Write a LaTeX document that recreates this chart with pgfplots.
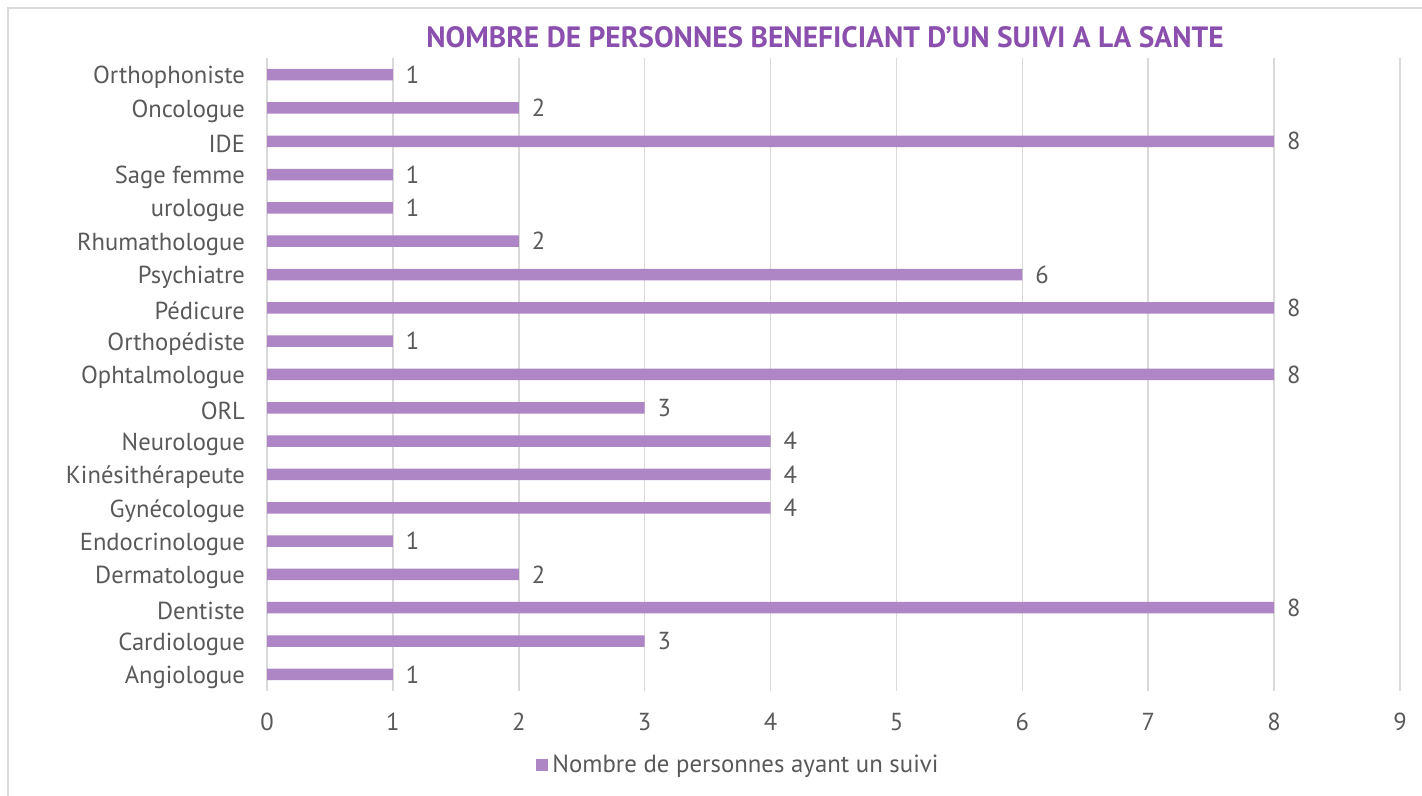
\documentclass[border=0pt]{standalone}
\usepackage{fontspec}
\setmainfont{PT Sans}
\usepackage{pgfplots}
\pgfplotsset{compat=1.18}
\definecolor{barc}{HTML}{AE85C5}
\definecolor{txt}{HTML}{595959}
\definecolor{ttl}{HTML}{8B4FAE}
\definecolor{grd}{HTML}{D9D9D9}
\begin{document}
\begin{tikzpicture}
\path[use as bounding box] (0,0) rectangle (711pt,398pt);
\draw[grd, line width=1pt] (4pt,-5pt) rectangle (716pt,394pt);
\begin{axis}[
  at={(133.5pt,52.5pt)}, anchor=south west,
  scale only axis, width=566.5pt, height=316.5pt,
  xbar, bar width=5.75pt,
  xmin=0, xmax=9, ymin=-0.5, ymax=18.5,
  xtick={0,...,9},
  ytick={0,...,18},
  yticklabels={Angiologue,Cardiologue,Dentiste,Dermatologue,Endocrinologue,Gynécologue,Kinésithérapeute,Neurologue,ORL,Ophtalmologue,Orthopédiste,Pédicure,Psychiatre,Rhumathologue,urologue,Sage femme,IDE\ ,Oncologue,Orthophoniste},
  axis line style={draw=none},
  major tick length=0pt,
  xmajorgrids, grid style={grd, line width=0.8pt},
  /pgf/number format/assume math mode=true,
  tick label style={font=\fontsize{12.3}{14}\selectfont, text=txt},
  xticklabel style={yshift=-7.5pt},
  yticklabel style={xshift=-7.5pt, yshift=-1.5pt},
  nodes near coords,
  nodes near coords style={font=\fontsize{12.3}{14}\selectfont, text=txt, anchor=west, xshift=3pt},
  legend style={at={(0.417,-0.117)}, anchor=center, draw=none, font=\fontsize{12.4}{14}\selectfont, text=txt, inner sep=0pt},
  legend image code/.code={\fill[barc] (0pt,-3pt) rectangle (6pt,3pt);},
  legend cell align=left,
]
\addplot[fill=barc, draw=none] coordinates {
(1,0) (3,1) (8,2) (2,3) (1,4) (4,5) (4,6) (4,7) (3,8) (8,9) (1,10) (8,11) (6,12) (2,13) (1,14) (1,15) (8,16) (2,17) (1,18)};
\addlegendentry{Nombre de personnes ayant un suivi}
\end{axis}
\node[font=\bfseries\fontsize{14.7}{17}\selectfont, text=ttl] at (412.5pt,379.5pt) {NOMBRE DE PERSONNES BENEFICIANT D'UN SUIVI A LA SANTE};
\end{tikzpicture}
\end{document}
